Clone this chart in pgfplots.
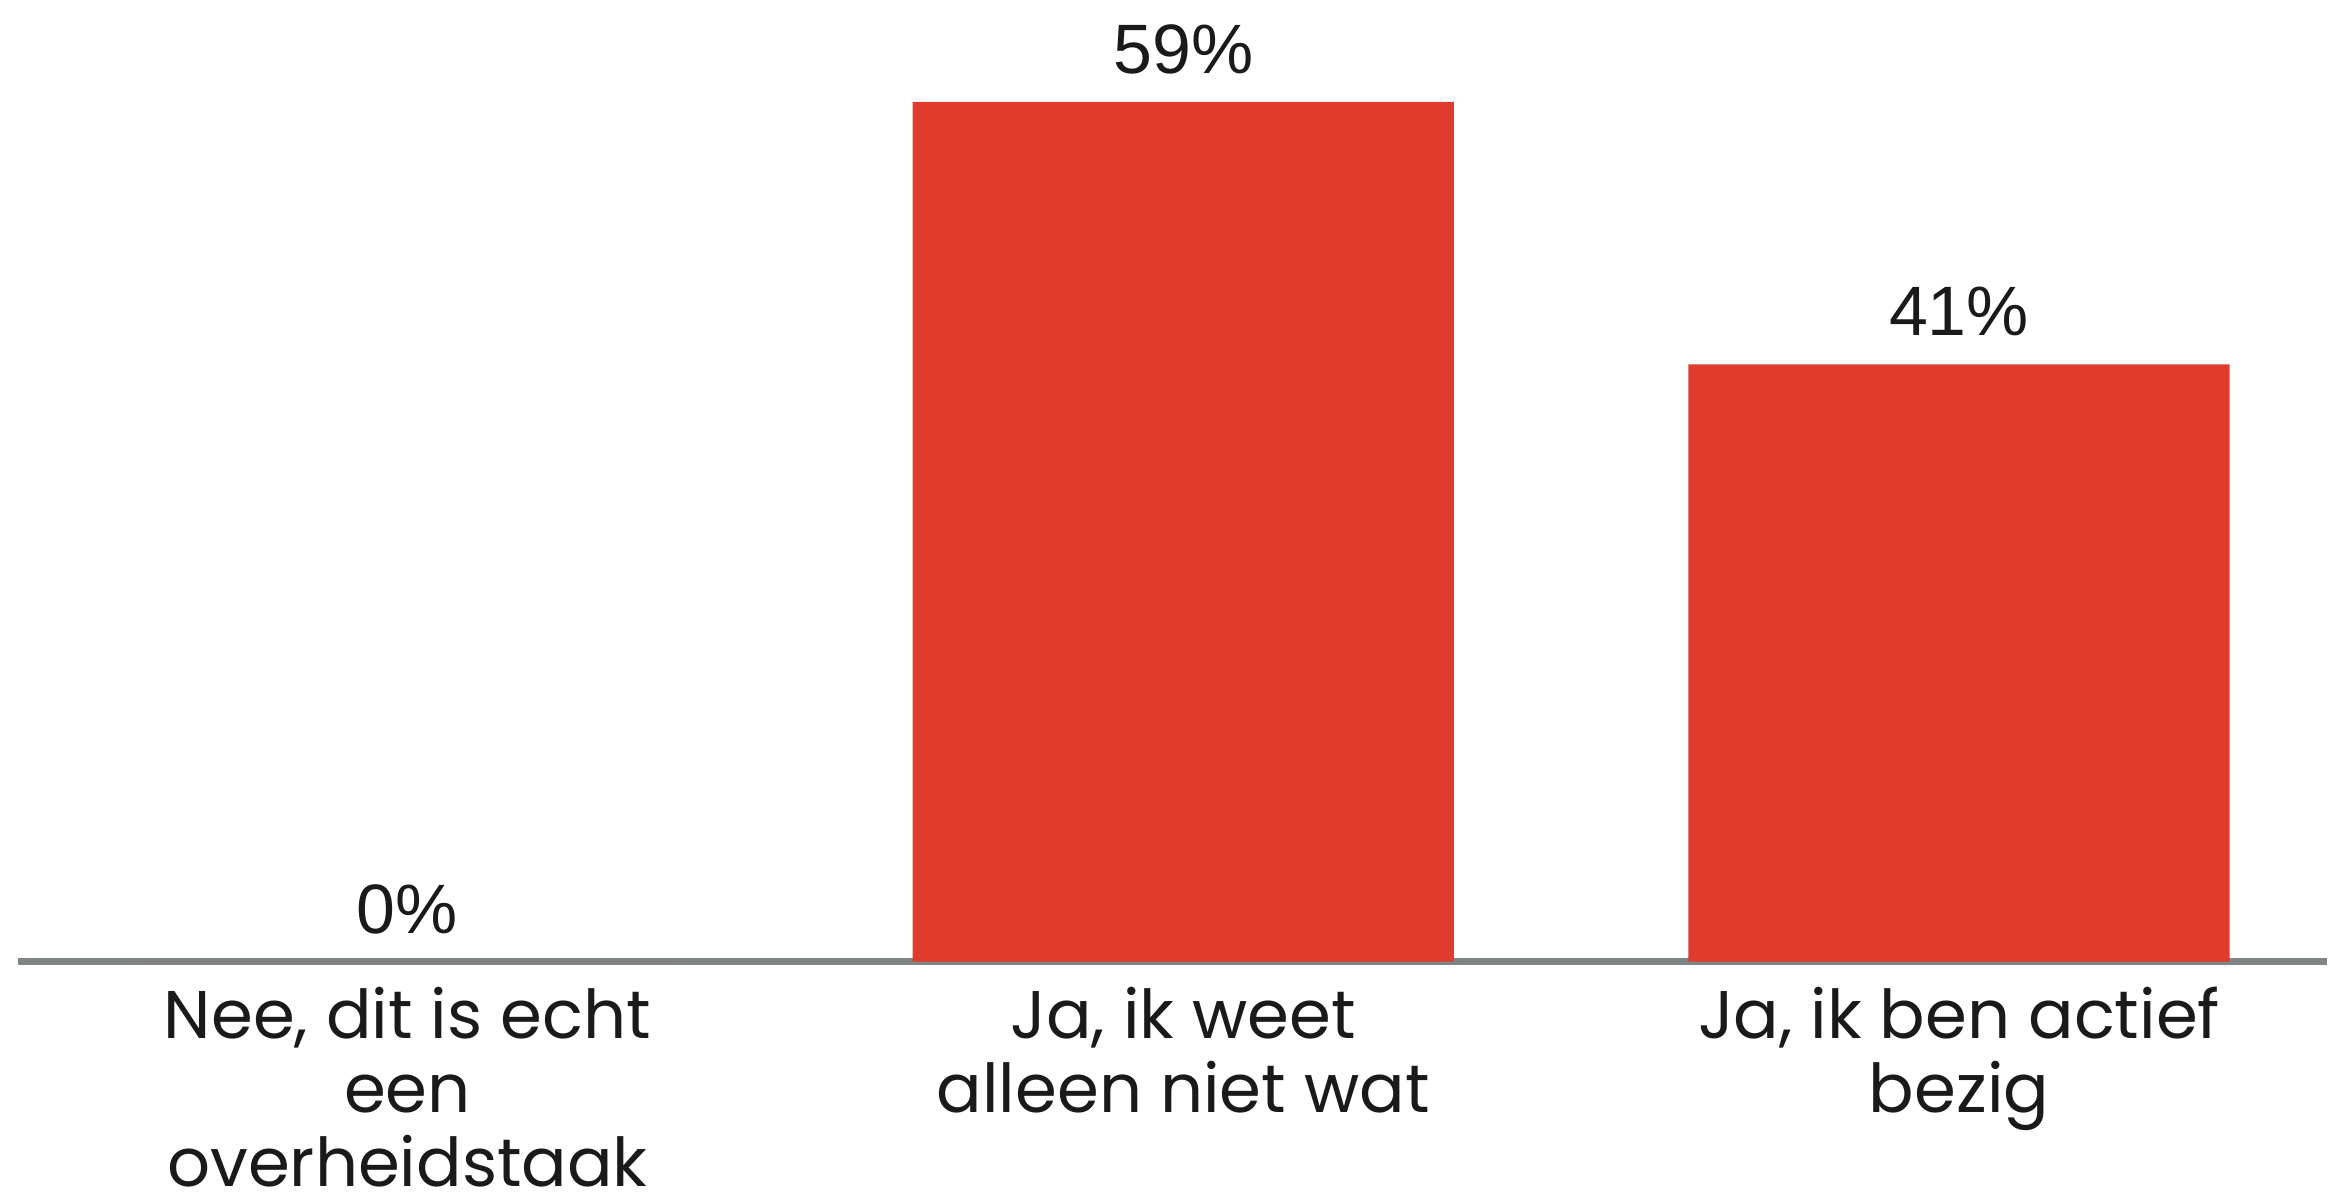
\documentclass[border=0pt]{standalone}
\usepackage{pgfplots}
\pgfplotsset{compat=1.18}
\usepackage{fontspec}
\setmainfont{Poppins}
\newfontfamily\numfont{Liberation Sans}
\definecolor{barred}{HTML}{E13B2E}
\definecolor{txt}{HTML}{1A1A1A}
\definecolor{axgray}{HTML}{7F8584}
\begin{document}
\begin{tikzpicture}
\begin{axis}[
  width=462.4pt, height=192.6pt,
  scale only axis,
  xmin=-0.502, xmax=2.474,
  ymin=0, ymax=66,
  axis x line=bottom,
  axis y line=none,
  x axis line style={axgray, line width=1.3pt, -},
  ytick=\empty,
  xtick=data,
  major tick length=0pt,
  xticklabels={{Nee, dit is echt\\een\\overheidstaak},{Ja, ik weet\\alleen niet wat},{Ja, ik ben actief\\bezig}},
  xticklabel style={align=center, anchor=north, inner ysep=0pt, yshift=-4.9pt, text=txt,
    font=\fontsize{13.5}{14.8}\selectfont},
  ybar,
  bar width=108.4pt,
  /pgf/number format/assume math mode=true,
  nodes near coords={\pgfmathprintnumber{\pgfplotspointmeta}\%},
  nodes near coords style={font=\numfont\fontsize{14}{15}\selectfont, text=txt,
    anchor=base, inner ysep=0pt, yshift=5.7pt},
  clip=false,
]
\addplot[fill=barred, draw=none] coordinates {(0,0) (1,59) (2,41)};
\end{axis}
\path ([xshift=-3.6pt]current axis.north west)
      ([xshift=-3.6pt,yshift=-47.4pt]current axis.south west);
\end{tikzpicture}
\end{document}
